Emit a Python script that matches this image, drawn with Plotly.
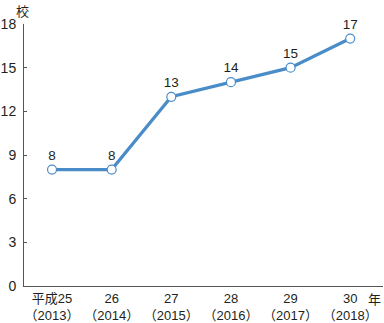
import plotly.graph_objects as go

categories = ["平成25<br>（2013）", "26<br>（2014）", "27<br>（2015）", "28<br>（2016）", "29<br>（2017）", "30<br>（2018）"]
values = [8, 8, 13, 14, 15, 17]
y_ticks = [0, 3, 6, 9, 12, 15, 18]

xs = list(range(len(categories)))
color = "#4a8cc8"
font = "Liberation Sans, Noto Sans CJK JP, Arial"

fig = go.Figure()
fig.add_trace(go.Scatter(
    x=xs, y=values, mode="lines+markers+text",
    line=dict(color=color, width=3.2),
    marker=dict(symbol="circle", size=9, color="white", line=dict(color=color, width=1.2)),
    text=[str(v) for v in values], textposition="top center",
    textfont=dict(size=13.5, color="#231f20", family=font),
    cliponaxis=False, showlegend=False,
))

fig.update_layout(
    width=384, height=323,
    margin=dict(l=24, r=1, t=24, b=37, autoexpand=False),
    plot_bgcolor="white", paper_bgcolor="white",
    font=dict(family=font, size=12, color="#231f20"),
    xaxis=dict(
        range=[-0.47, 5.55], tickvals=xs, ticktext=categories, automargin=False,
        showgrid=False, zeroline=False, showline=True, linecolor="#555", linewidth=1,
        ticks="", tickfont=dict(size=13), ticklabelstandoff=0,
    ),
    yaxis=dict(
        range=[0, 18], tickvals=y_ticks, showgrid=False, zeroline=False,
        showline=True, linecolor="#555", linewidth=1, automargin=False,
        ticks="inside", ticklen=3, tickcolor="#555",
        tickfont=dict(size=14), ticklabelstandoff=4,
    ),
    annotations=[
        dict(text="校", x=0, xref="paper", xanchor="center", xshift=-2, y=1, yref="paper",
             yanchor="bottom", yshift=3, showarrow=False, font=dict(size=13)),
        dict(text="年", x=1, xref="paper", xanchor="right", xshift=0, y=0, yref="paper",
             yanchor="top", yshift=-4, showarrow=False, font=dict(size=13)),
    ],
)

fig.write_html("out.html")
